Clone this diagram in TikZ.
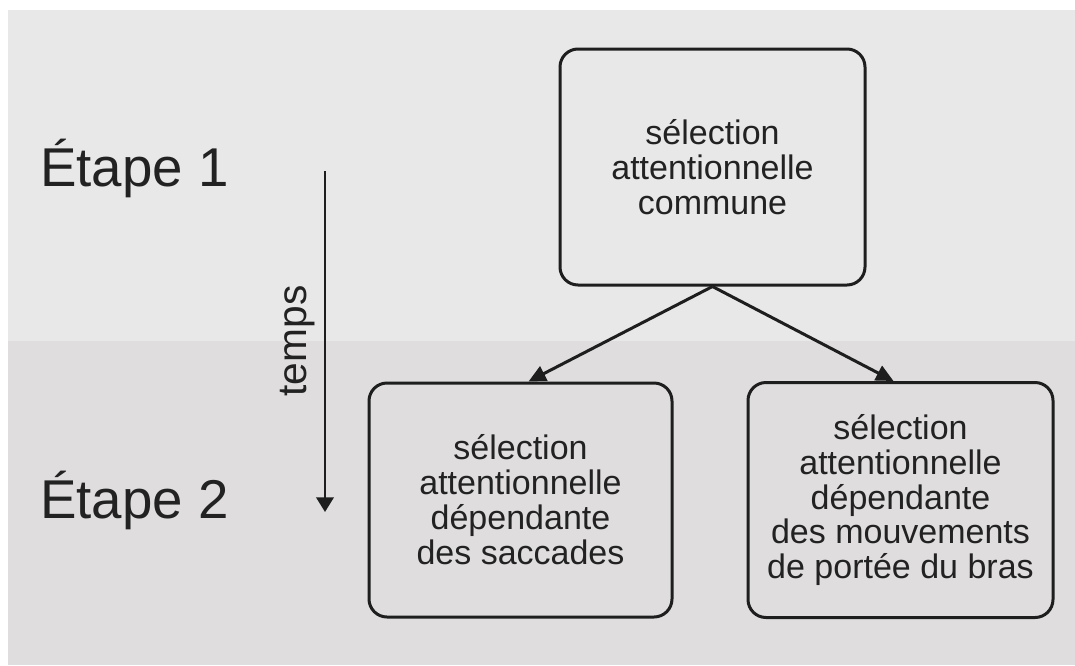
\documentclass[tikz,border=0pt]{standalone}
\usepackage{fontspec}
\setmainfont{Liberation Sans}
\usetikzlibrary{arrows.meta,calc}
\definecolor{bgtop}{HTML}{E8E8E8}
\definecolor{bgbot}{HTML}{DFDDDE}
\definecolor{ink}{HTML}{222222}
\definecolor{edge}{HTML}{1E1E1E}
\tikzset{
  procbox/.style={draw=edge, line width=2.25pt, rounded corners=13.5pt,
    align=center, text=ink, inner sep=0pt,
    font=\fontsize{25.5pt}{26.2pt}\selectfont},
  flowarrow/.style={draw=edge, line width=2.25pt,
    -{Triangle[length=13pt,width=12pt]}},
  timearrow/.style={draw=edge, line width=2pt,
    -{Triangle[length=11pt,width=13pt]}},
  stagelabel/.style={anchor=base west, text=ink, inner sep=0pt,
    font=\fontsize{41pt}{46pt}\selectfont},
}
\begin{document}
\begin{tikzpicture}[x=0.75pt,y=-0.75pt]
\useasboundingbox (0,0) rectangle (1075,665);
\fill[white] (0,0) rectangle (1075,665);
\fill[bgtop] (8,10) rectangle (1075,341);
\fill[bgbot] (8,341) rectangle (1075,665);

\node[procbox, minimum width=228.75pt, minimum height=177pt] (top) at (712.5,167)
  {sélection\\attentionnelle\\commune};
\node[procbox, minimum width=227.25pt, minimum height=175.5pt] (left) at (520.5,500)
  {sélection\\attentionnelle\\dépendante\\des saccades};
\node[procbox, minimum width=228.75pt, minimum height=176.25pt] (right) at (900.5,500)
  {sélection\\attentionnelle\\dépendante\\des mouvements\\de portée du bras};

\draw[flowarrow] (top.south) -- ($(left.north)+(8,0)$);
\draw[flowarrow] (top.south) -- ($(right.north)+(-7,0)$);

\node[stagelabel] (e1) at (40,186) {Étape 1};
\node[stagelabel] (e2) at (40,518) {Étape 2};

\coordinate (tstart) at (325,171);
\coordinate (tend) at (325,512);
\draw[timearrow] (tstart) -- (tend);
\node[rotate=90, anchor=base, text=ink, inner sep=0pt,
  font=\fontsize{30.5pt}{34pt}\selectfont] (temps) at (306,341) {temps};
\end{tikzpicture}
\end{document}
